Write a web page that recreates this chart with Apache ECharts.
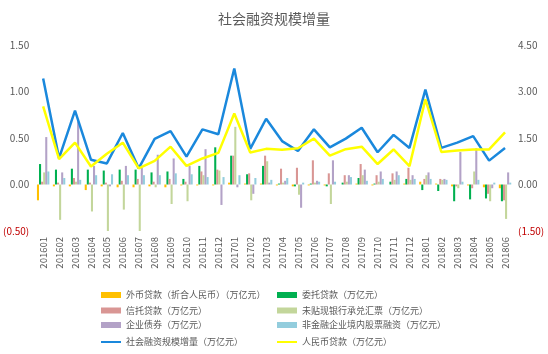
<!DOCTYPE html>
<html>
<head>
<meta charset="utf-8">
<style>
  html, body { margin: 0; padding: 0; background: #fff; }
  #chart { width: 548px; height: 354px; }
</style>
<script src="https://cdn.jsdelivr.net/npm/echarts@6/dist/echarts.min.js"></script>
</head>
<body>
<div id="chart"></div>
<script>
const months = ['201601','201602','201603','201604','201605','201606','201607','201608','201609','201610','201611','201612',
  '201701','201702','201703','201704','201705','201706','201707','201708','201709','201710','201711','201712',
  '201801','201802','201803','201804','201805','201806'];

// 万亿元
const fxLoans   = [-0.17,-0.02,-0.02,-0.06,-0.02,-0.03,-0.03,-0.02,-0.03,-0.01,-0.01,-0.01, 0.02, 0.01, 0.01,-0.01,-0.02,-0.01,-0.01, 0.00, 0.01,-0.01, 0.00, 0.01, 0.03, 0.01,-0.02,-0.01,-0.03,-0.04];
const entrusted = [ 0.22, 0.16, 0.17, 0.16, 0.15, 0.16, 0.16, 0.13, 0.14, 0.06, 0.20, 0.40, 0.31, 0.11, 0.20, 0.01,-0.02, 0.01,-0.02, 0.02, 0.07, 0.01, 0.03, 0.06,-0.06,-0.07,-0.18,-0.16,-0.15,-0.18];
const trust     = [ 0.03, 0.02, 0.07, 0.02, 0.02, 0.04, 0.06, 0.03, 0.06, 0.03, 0.14, 0.16, 0.31, 0.12, 0.31, 0.17, 0.18, 0.26, 0.12, 0.10, 0.22, 0.10, 0.12, 0.18, 0.06, 0.06,-0.02,-0.04,-0.10,-0.17];
const undisc    = [ 0.13,-0.38, 0.03,-0.29,-0.50,-0.27,-0.50,-0.03,-0.21,-0.18, 0.10, 0.15, 0.62,-0.17, 0.25, 0.02,-0.11, 0.02,-0.21, 0.03, 0.10, 0.03, 0.05, 0.05, 0.10, 0.05,-0.04, 0.14,-0.18,-0.37];
const bonds     = [ 0.51, 0.13, 0.68, 0.20,-0.02, 0.20, 0.18, 0.32, 0.28, 0.20, 0.38,-0.22,-0.03,-0.10, 0.02, 0.04,-0.25, 0.04, 0.26, 0.10, 0.16, 0.14, 0.14, 0.10, 0.13, 0.06, 0.35, 0.39,-0.04, 0.13];
const equity    = [ 0.14, 0.07, 0.05, 0.10, 0.11, 0.10, 0.10, 0.10, 0.12, 0.11, 0.08, 0.08, 0.10, 0.07, 0.05, 0.07, 0.02, 0.03, 0.03, 0.08, 0.04, 0.06, 0.10, 0.06, 0.06, 0.05, 0.03, 0.05, 0.02, 0.02];
const totalFin  = [ 3.42, 0.85, 2.38, 0.80, 0.68, 1.66, 0.52, 1.47, 1.72, 0.90, 1.78, 1.62, 3.74, 1.15, 2.12, 1.40, 1.08, 1.78, 1.20, 1.48, 1.83, 1.04, 1.60, 1.18, 3.06, 1.18, 1.35, 1.56, 0.77, 1.18];
const rmbLoans  = [ 2.52, 0.82, 1.35, 0.58, 0.99, 1.35, 0.52, 0.76, 1.22, 0.60, 0.84, 1.02, 2.29, 1.03, 1.15, 1.12, 1.17, 1.48, 0.93, 1.14, 1.22, 0.66, 1.13, 0.59, 2.75, 1.05, 1.10, 1.13, 1.13, 1.68];

const names = {
  fx: '外币贷款（折合人民币）（万亿元）',
  entrusted: '委托贷款（万亿元）',
  trust: '信托贷款（万亿元）',
  undisc: '未贴现银行承兑汇票（万亿元）',
  bonds: '企业债券（万亿元）',
  equity: '非金融企业境内股票融资（万亿元）',
  total: '社会融资规模增量（万亿元）',
  rmb: '人民币贷款（万亿元）'
};

const font = '"Noto Sans CJK SC", "Noto Sans", sans-serif';
const gray = '#595959';

function fmt(v) {
  return v < 0 ? '(' + Math.abs(v).toFixed(2) + ')' : v.toFixed(2);
}
function labelColor(v) {
  return Number(v) < 0 ? '#C00000' : gray;
}

function bar(name, data, color) {
  return {
    name, type: 'bar', data, yAxisIndex: 0,
    barGap: '0%', barCategoryGap: '22%',
    itemStyle: { color }
  };
}

// one legend per entry: two columns, four rows
const legendCols = [101, 277];
const legendRows = [290, 305.5, 320, 335.5];
const legendOrder = [
  [names.fx, names.entrusted],
  [names.trust, names.undisc],
  [names.bonds, names.equity],
  [names.total, names.rmb]
];
const legends = [];
legendOrder.forEach((row, r) => {
  row.forEach((name, c) => {
    const isLine = r === 3;
    legends.push({
      left: legendCols[c], top: legendRows[r] + (isLine ? 2 : 0),
      itemWidth: 20, itemHeight: isLine ? 2 : 6, padding: 0,
      icon: 'rect',
      data: [name],
      textStyle: { color: gray, fontSize: 9, fontFamily: font, lineHeight: 10, padding: isLine ? [-4, 0, -4, 0] : 0 }
    });
  });
});

const chart = echarts.init(document.getElementById('chart'));

const option = {
  backgroundColor: '#fff',
  animation: false,
  title: {
    text: '社会融资规模增量',
    left: 'center',
    top: 7,
    textStyle: { color: gray, fontSize: 14, fontWeight: 'normal', fontFamily: font }
  },
  legend: legends,
  grid: { left: 35, right: 35, top: 45, bottom: 123 },
  xAxis: {
    type: 'category',
    data: months,
    axisLine: { show: false, onZero: false },
    axisTick: { show: false },
    axisLabel: { rotate: 90, color: gray, fontSize: 9.5, margin: 6, fontFamily: font, interval: 0 }
  },
  yAxis: [
    {
      type: 'value', min: -0.5, max: 1.5, interval: 0.5,
      splitLine: { show: false }, axisLine: { show: false }, axisTick: { show: false },
      axisLabel: { formatter: fmt, color: labelColor, fontSize: 10, margin: 6, fontFamily: font }
    },
    {
      type: 'value', min: -1.5, max: 4.5, interval: 1.5,
      splitLine: { show: false }, axisLine: { show: false }, axisTick: { show: false },
      axisLabel: { formatter: fmt, color: labelColor, fontSize: 10, margin: 5, fontFamily: font }
    }
  ],
  series: [
    bar(names.fx, fxLoans, '#FFC000'),
    bar(names.entrusted, entrusted, '#00B050'),
    bar(names.trust, trust, '#D99694'),
    bar(names.undisc, undisc, '#C3D69B'),
    bar(names.bonds, bonds, '#B3A2C7'),
    bar(names.equity, equity, '#93CDDD'),
    {
      name: names.total, type: 'line', yAxisIndex: 1, data: totalFin,
      symbol: 'none', lineStyle: { color: '#1A88DC', width: 2.5 }, itemStyle: { color: '#1A88DC' }
    },
    {
      name: names.rmb, type: 'line', yAxisIndex: 1, data: rmbLoans,
      symbol: 'none', lineStyle: { color: '#FFFF00', width: 2.5 }, itemStyle: { color: '#FFFF00' }
    }
  ]
};

chart.setOption(option);
</script>
</body>
</html>
